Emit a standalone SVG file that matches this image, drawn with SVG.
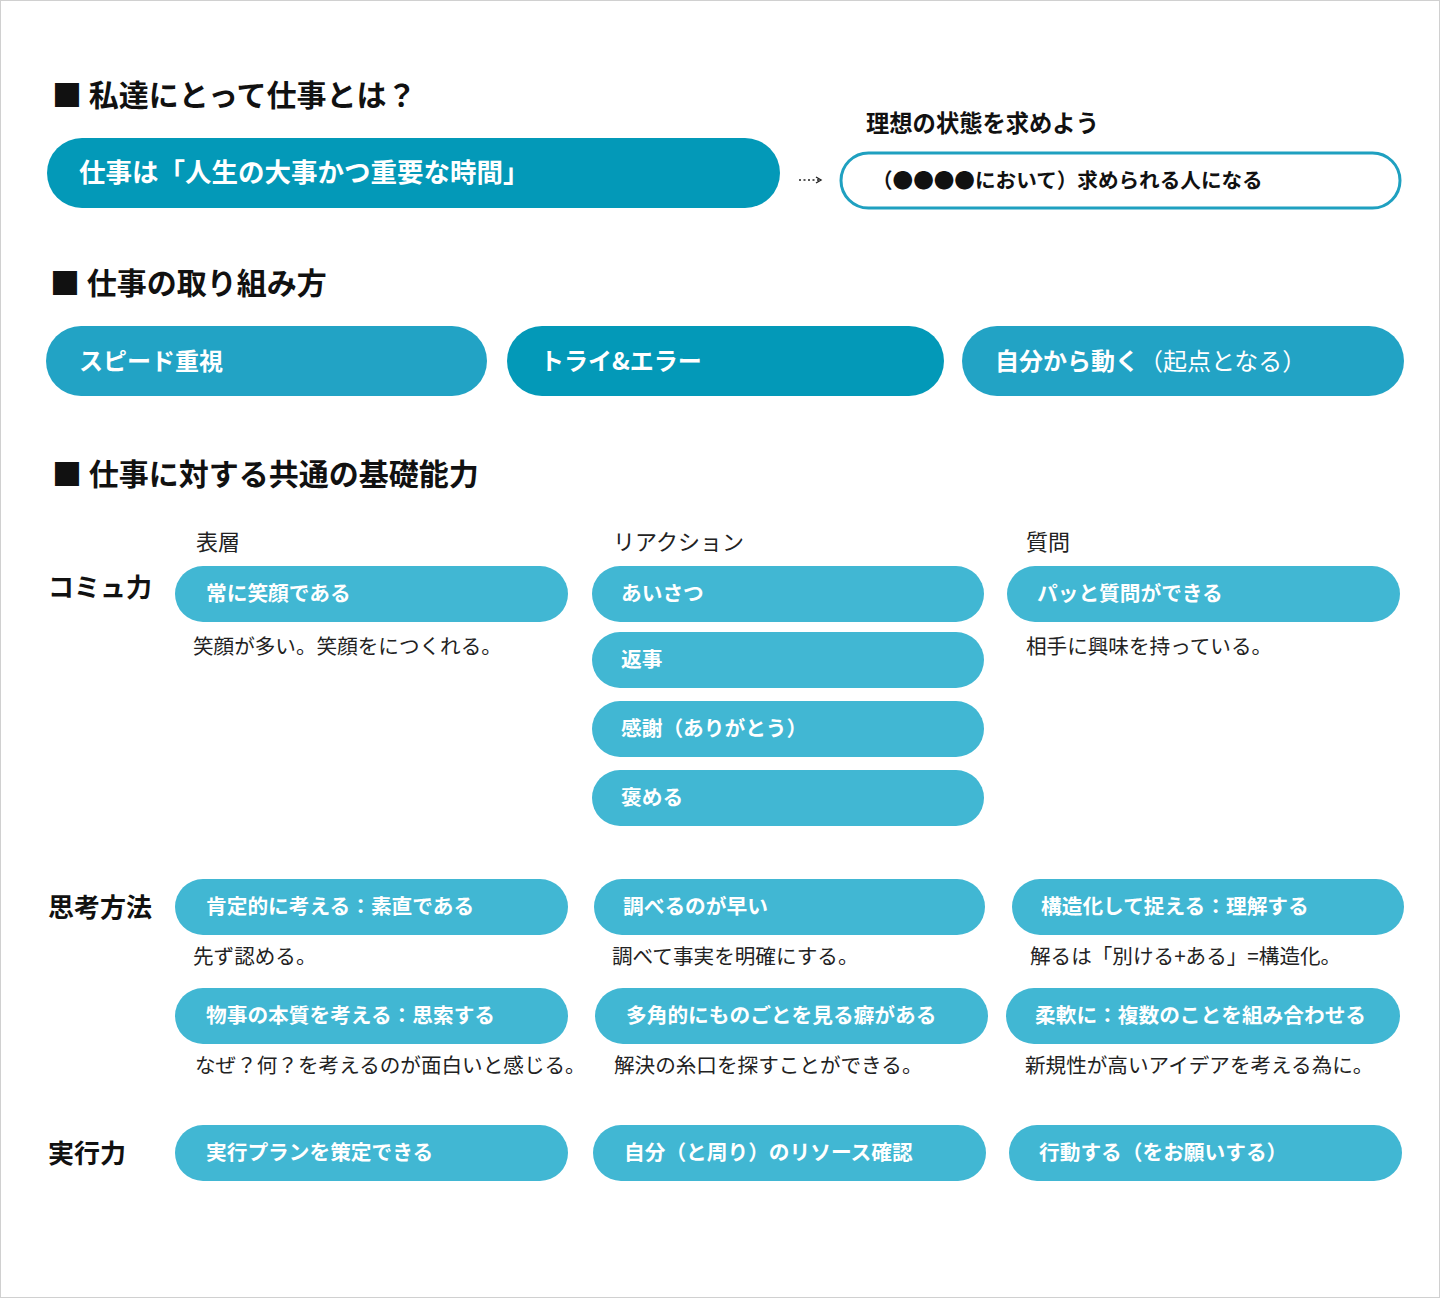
<svg xmlns="http://www.w3.org/2000/svg" width="1440" height="1298" viewBox="0 0 1440 1298">
<style>
text{font-family:"Noto Sans CJK JP","Noto Sans",sans-serif;}
.h{font-size:30px;font-weight:700;fill:#111;}
.lbl{font-size:26px;font-weight:700;fill:#111;}
.col{font-size:22px;font-weight:400;fill:#222;}
.sub{font-size:20.6px;font-weight:400;fill:#222;}
.pt{font-size:20.7px;font-weight:700;fill:#fff;}
.pt2{font-size:24px;font-weight:700;fill:#fff;}
.dark{fill:#0399b8;}
.mid{fill:#22a3c5;}
.light{fill:#41b7d3;}
</style>
<defs>
<marker id="ah" markerWidth="8" markerHeight="8" refX="6" refY="4" orient="auto" markerUnits="userSpaceOnUse">
<path d="M1,1 L6,4 L1,7" fill="none" stroke="#222" stroke-width="1.4"/>
</marker>
</defs>
<rect x="0.5" y="0.5" width="1439" height="1297" fill="#fff" stroke="#d0d0d0" stroke-width="1"/>

<g id="heading1"><text class="h" x="52" y="106">■ 私達にとって仕事とは？</text></g>
<g id="node-work">
<rect class="dark" x="47" y="138" width="733" height="70" rx="35"/>
<text x="79" y="182" font-size="26.5" font-weight="700" fill="#fff">仕事は「人生の大事かつ重要な時間」</text>
</g>
<g id="label-ideal"><text x="866" y="132" font-size="23.3" font-weight="700" fill="#111">理想の状態を求めよう</text></g>
<g id="node-ideal">
<rect x="841" y="153" width="559" height="55" rx="27.5" fill="#fff" stroke="#1fa0c0" stroke-width="3"/>
<text x="872" y="188" font-size="20.6" font-weight="700" fill="#111">（●●●●において）求められる人になる</text>
</g>
<g id="connectors">
<line x1="799" y1="180" x2="821" y2="180" stroke="#222" stroke-width="1.6" stroke-dasharray="2 2.5" marker-end="url(#ah)"/>
</g>

<g id="heading2"><text class="h" x="50" y="294">■ 仕事の取り組み方</text></g>
<g id="node-speed">
<rect class="mid" x="46" y="326" width="441" height="70" rx="35"/>
<text class="pt2" x="79" y="370">スピード重視</text>
</g>
<g id="node-trial">
<rect class="dark" x="507" y="326" width="437" height="70" rx="35"/>
<text class="pt2" x="540" y="370">トライ&amp;エラー</text>
</g>
<g id="node-self">
<rect class="mid" x="962" y="326" width="442" height="70" rx="35"/>
<text class="pt2" x="995" y="370">自分から動く<tspan font-weight="400">（起点となる）</tspan></text>
</g>

<g id="heading3"><text class="h" x="52" y="485">■ 仕事に対する共通の基礎能力</text></g>
<g id="col-labels">
<text class="col" x="196" y="550">表層</text>
<text class="col" x="613" y="550">リアクション</text>
<text class="col" x="1026" y="550">質問</text>
</g>

<g id="row-comm"><text class="lbl" x="48" y="597">コミュ力</text></g>
<g id="node-smile">
<rect class="light" x="175" y="566" width="393" height="56" rx="28"/>
<text class="pt" x="206" y="601">常に笑顔である</text>
<text class="sub" x="193" y="654">笑顔が多い。笑顔をにつくれる。</text>
</g>
<g id="node-greet">
<rect class="light" x="592" y="566" width="392" height="56" rx="28"/>
<text class="pt" x="621" y="601">あいさつ</text>
</g>
<g id="node-reply">
<rect class="light" x="592" y="632" width="392" height="56" rx="28"/>
<text class="pt" x="621" y="667">返事</text>
</g>
<g id="node-thanks">
<rect class="light" x="592" y="701" width="392" height="56" rx="28"/>
<text class="pt" x="621" y="736">感謝（ありがとう）</text>
</g>
<g id="node-praise">
<rect class="light" x="592" y="770" width="392" height="56" rx="28"/>
<text class="pt" x="621" y="805">褒める</text>
</g>
<g id="node-question">
<rect class="light" x="1007" y="566" width="393" height="56" rx="28"/>
<text class="pt" x="1037" y="601">パッと質問ができる</text>
<text class="sub" x="1026" y="654">相手に興味を持っている。</text>
</g>

<g id="row-think"><text class="lbl" x="48" y="917">思考方法</text></g>
<g id="node-positive">
<rect class="light" x="175" y="879" width="393" height="56" rx="28"/>
<text class="pt" x="206" y="914">肯定的に考える：素直である</text>
<text class="sub" x="193" y="964">先ず認める。</text>
</g>
<g id="node-research">
<rect class="light" x="594" y="879" width="391" height="56" rx="28"/>
<text class="pt" x="623" y="914">調べるのが早い</text>
<text class="sub" x="612" y="964">調べて事実を明確にする。</text>
</g>
<g id="node-structure">
<rect class="light" x="1012" y="879" width="392" height="56" rx="28"/>
<text class="pt" x="1041" y="914">構造化して捉える：理解する</text>
<text class="sub" x="1030" y="964">解るは「別ける+ある」=構造化。</text>
</g>
<g id="node-essence">
<rect class="light" x="175" y="988" width="393" height="56" rx="28"/>
<text class="pt" x="206" y="1023">物事の本質を考える：思索する</text>
<text class="sub" x="195" y="1073">なぜ？何？を考えるのが面白いと感じる。</text>
</g>
<g id="node-multi">
<rect class="light" x="595" y="988" width="393" height="56" rx="28"/>
<text class="pt" x="626" y="1023">多角的にものごとを見る癖がある</text>
<text class="sub" x="614" y="1073">解決の糸口を探すことができる。</text>
</g>
<g id="node-flex">
<rect class="light" x="1006" y="988" width="394" height="56" rx="28"/>
<text class="pt" x="1035" y="1023">柔軟に：複数のことを組み合わせる</text>
<text class="sub" x="1025" y="1073">新規性が高いアイデアを考える為に。</text>
</g>

<g id="row-exec"><text class="lbl" x="48" y="1163">実行力</text></g>
<g id="node-plan">
<rect class="light" x="175" y="1125" width="393" height="56" rx="28"/>
<text class="pt" x="206" y="1160">実行プランを策定できる</text>
</g>
<g id="node-resource">
<rect class="light" x="593" y="1125" width="393" height="56" rx="28"/>
<text class="pt" x="624" y="1160">自分（と周り）のリソース確認</text>
</g>
<g id="node-act">
<rect class="light" x="1009" y="1125" width="393" height="56" rx="28"/>
<text class="pt" x="1039" y="1160">行動する（をお願いする）</text>
</g>
</svg>
